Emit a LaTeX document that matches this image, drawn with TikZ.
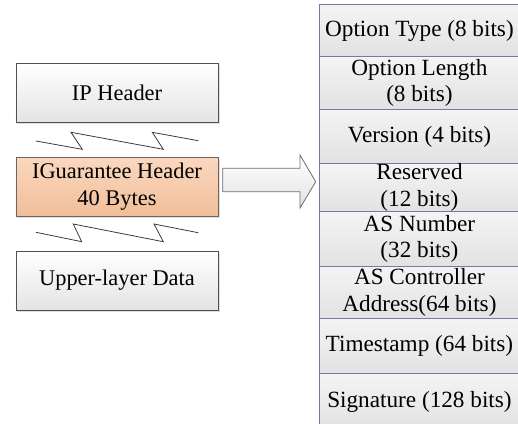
\documentclass[tikz,border=0pt]{standalone}
\usepackage{fontspec}
\setmainfont{Liberation Serif}
\usetikzlibrary{shadows}
\definecolor{rowline}{RGB}{112,124,168}
\definecolor{rowtop}{RGB}{244,244,244}
\definecolor{rowbot}{RGB}{226,226,226}
\definecolor{boxline}{RGB}{80,80,80}
\definecolor{boxbot}{RGB}{228,228,228}
\definecolor{igtop}{RGB}{250,216,192}
\definecolor{igbot}{RGB}{241,190,152}
\definecolor{igline}{RGB}{110,100,95}
\definecolor{zig}{RGB}{60,60,60}
\definecolor{arrline}{RGB}{110,110,110}
\begin{document}
\begin{tikzpicture}[x=1bp,y=-1bp,
  txt/.style={font=\fontsize{22.5}{26.6}\selectfont, align=center, inner sep=0pt, text=black},
  rowbox/.style={txt, font=\fontsize{23.3}{26.6}\selectfont, rectangle, draw=rowline, line width=0.9bp, top color=rowtop, bottom color=rowbot, minimum width=200bp, anchor=north west},
  leftbox/.style={txt, rectangle, draw=boxline, line width=0.9bp, top color=white, bottom color=boxbot, minimum width=202bp, minimum height=59bp,
    drop shadow={opacity=0.25, shadow xshift=1.5bp, shadow yshift=-1.5bp}},
  igbox/.style={leftbox, draw=igline, top color=igtop, bottom color=igbot},
  zigline/.style={draw=zig, line width=0.8bp},
  bigarrow/.style={draw=arrline, line width=0.8bp, top color=white, bottom color=gray!22}]
\useasboundingbox (0,0) rectangle (518,423);
\clip (0,0) rectangle (518,423);
% left stack
\node[leftbox] (ip) at (117,92.5) {IP Header};
\node[igbox] (ig) at (117,186.5) {IGuarantee Header\\40 Bytes};
\node[leftbox] (up) at (117,280.5) {Upper-layer Data};
% break lines
\draw[zigline] (36,141) -- (82.3,149.3) -- (71,132.3) -- (163.3,149.3) -- (152.3,132.3) -- (198.3,140.7);
\draw[zigline] (36,232.3) -- (81.7,241.7) -- (73.3,224) -- (163.3,241.7) -- (154,224) -- (198.3,232.7);
% option column
\node[rowbox, minimum height=52bp] (r1) at (319,4) {Option Type (8 bits)};
\node[rowbox, minimum height=53bp] (r2) at (319,56) {Option Length\\(8 bits)};
\node[rowbox, minimum height=54bp] (r3) at (319,109) {Version (4 bits)};
\node[rowbox, minimum height=48bp] (r4) at (319,163) {Reserved\\(12 bits)};
\node[rowbox, minimum height=55bp] (r5) at (319,211) {AS Number\\(32 bits)};
\node[rowbox, minimum height=52bp] (r6) at (319,266) {AS Controller\\Address(64 bits)};
\node[rowbox, minimum height=55bp] (r7) at (319,318) {Timestamp (64 bits)};
\node[rowbox, minimum height=57bp] (r8) at (319,373) {Signature (128 bits)};
% block arrow
\path[bigarrow] (222.7,168.3) -- (300,168.3) -- (300,155) -- (315.7,181.7) -- (300,208) -- (300,191.7) -- (222.7,191.7) -- cycle;
\end{tikzpicture}
\end{document}
